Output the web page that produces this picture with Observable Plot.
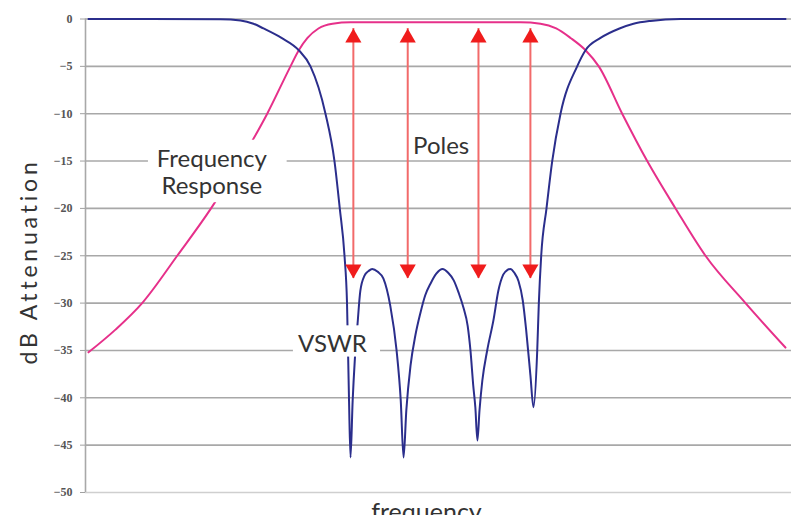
<!DOCTYPE html>
<html>
<head>
<meta charset="utf-8">
<script src="https://cdn.jsdelivr.net/npm/d3@7"></script>
<script src="https://cdn.jsdelivr.net/npm/@observablehq/plot@0.6"></script>
<style>
  body { margin: 0; background: #fff; }
  #chart svg { display: block; }
</style>
</head>
<body>
<div id="chart"></div>
<script>
// ---- data (normalised frequency 0..100, dB attenuation) ----
const yTicks = [0, -5, -10, -15, -20, -25, -30, -35, -40, -45, -50];

const responseFreq = [0, 3.87, 7.70, 12.73, 17.58, 21.81, 25.64, 28.98, 30.17, 31.42, 32.99, 35.01, 37.59,
  44.8, 51.9, 62.0, 64.85, 67.1, 69.15, 71.31, 73.21, 76.57, 80.16, 84.22, 88.52, 94.26, 100];
const responseDb = [-35.2, -32.8, -30, -25, -20, -15, -10, -5, -3.3, -2, -1, -0.5, -0.35,
  -0.35, -0.35, -0.35, -0.5, -1, -2, -3.3, -5, -10, -15, -20, -25, -30, -34.7];

const vswrFreq = [0, 8.9, 18.94, 21.81, 23.67, 25.11, 27.69, 30.17, 31.85, 34.0, 35.29, 36.05, 36.73, 37.09, 37.37, 37.59,
  37.9, 38.2, 38.6, 39.0, 39.6, 40.2, 40.7, 41.5, 42.3, 43.3, 44.2, 44.8, 45.2,
  45.6, 46.2, 46.9, 47.6, 48.3, 49.1, 49.9, 50.8, 51.6, 52.4, 53.1, 53.8, 54.4, 54.8, 55.2, 55.5, 55.8,
  56.1, 56.5, 57.2, 58.1, 58.8, 59.5, 60.1, 60.5, 61.1, 61.7, 62.3, 62.8, 63.4, 63.84,
  64.38, 64.61, 64.95, 65.71, 66.53, 67.72, 70.11, 71.31, 73.46, 76.18, 78.19, 80.63, 84.93, 100];
const vswrDb = [0, 0, -0.02, -0.15, -0.5, -1, -2, -3.3, -5, -10, -15, -20, -25, -30, -40, -46.3,
  -40.3, -36.1, -32.2, -28.7, -27.1, -26.6, -26.4, -26.7, -27.4, -30.3, -35.0, -40.3, -46.3,
  -41.3, -36.6, -33.4, -31.1, -29.2, -27.9, -26.9, -26.4, -26.8, -27.6, -28.9, -30.5, -32.4, -35.0, -38.7, -41.0, -44.5,
  -41.3, -38.2, -35.0, -31.8, -28.7, -27.0, -26.5, -26.4, -26.8, -27.7, -29.7, -32.9, -37.6, -41.0,
  -35, -30, -25, -20, -15, -10, -5, -3.3, -2, -1, -0.5, -0.2, 0, 0];

const poleFreq = [38.0, 45.8, 55.95, 63.4];
const poleTopDb = [-1.0, -1.0, -1.0, -1.0];
const poleBottomDb = [-27.4, -27.4, -27.4, -27.4];

const labelText = ["Frequency\nResponse", "Poles", "VSWR"];
const labelFreq = [17.7, 50.6, 35.0];
const labelDb = [-16.1, -13.3, -34.3];

// white boxes behind the annotations
const maskFreq1 = [8.6, 29.4];
const maskFreq2 = [28.5, 41.9];
const maskDb1 = [-12.8, -32.4];
const maskDb2 = [-19.4, -35.7];

// ---- tables ----
const response = responseFreq.map((f, i) => ({f, db: responseDb[i]}));
const vswr = vswrFreq.map((f, i) => ({f, db: vswrDb[i]}));
const poles = poleFreq.map((f, i) => ({f, top: poleTopDb[i], bottom: poleBottomDb[i]}));
const labels = labelText.map((t, i) => ({t, f: labelFreq[i], db: labelDb[i]}));
const masks = maskFreq1.map((f1, i) => ({f1, f2: maskFreq2[i], d1: maskDb1[i], d2: maskDb2[i]}));

const xMin = -0.43, xMax = 100.86;
const font = "Lato, 'Open Sans', sans-serif";

const chart = Plot.plot({
  width: 791,
  height: 515,
  marginLeft: 85,
  marginRight: 0,
  marginTop: 18.5,
  marginBottom: 23,
  style: {background: "#fff", overflow: "visible"},
  x: {domain: [xMin, xMax], axis: null},
  y: {domain: [-50, 0], axis: null},
  marks: [
    Plot.ruleY(yTicks, {stroke: d => d === -50 ? "#cfcfcf" : "#a8a8a8", strokeWidth: 1.6}),
    Plot.ruleX([xMin], {stroke: "#a8a8a8", strokeWidth: 1.6}),
    Plot.axisY({ticks: yTicks, tickSize: 5, tickPadding: 8, stroke: "#a0a0a0", fill: "#555",
      fontSize: 12, fontFamily: "'Liberation Serif', serif", fontWeight: "bold", label: null}),
    Plot.line(response, {x: "f", y: "db", stroke: "#e6308a", strokeWidth: 2, curve: "monotone-x"}),
    Plot.line(vswr, {x: "f", y: "db", stroke: "#2b2e8c", strokeWidth: 2, curve: "monotone-x"}),
    Plot.rect(masks, {x1: "f1", x2: "f2", y1: "d1", y2: "d2", fill: "#fff"}),
    Plot.text(labels, {x: "f", y: "db", text: "t", fontSize: 24, lineHeight: 1.125,
      fontFamily: font, fill: "#333"}),
    Plot.ruleX(poles, {x: "f", y1: "top", y2: "bottom", stroke: "#f26a6a", strokeWidth: 2}),
    Plot.dot(poles, {x: "f", y: "top", dy: 9.3, symbol: "triangle", r: 6, fill: "#f01c1c", stroke: null}),
    Plot.dot(poles, {x: "f", y: "bottom", dy: -9.3, symbol: "triangle", rotate: 180, r: 6, fill: "#f01c1c", stroke: null}),
    Plot.text(["dB Attenuation"], {x: xMin, y: -25.6, text: d => d, rotate: -90, dx: -56,
      fontSize: 23, fontFamily: font, fill: "#333"}),
    Plot.text(["frequency"], {frameAnchor: "bottom", text: d => d, lineAnchor: "top", dy: 11, dx: -12,
      fontSize: 25, fontFamily: font, fill: "#333"})
  ]
});
// the original axis title is set in a wide typeface: widen it with letter spacing
d3.select(chart).selectAll("text").filter(function () { return this.textContent === "dB Attenuation"; })
  .attr("letter-spacing", "3.8px");
document.getElementById("chart").append(chart);
</script>
</body>
</html>
